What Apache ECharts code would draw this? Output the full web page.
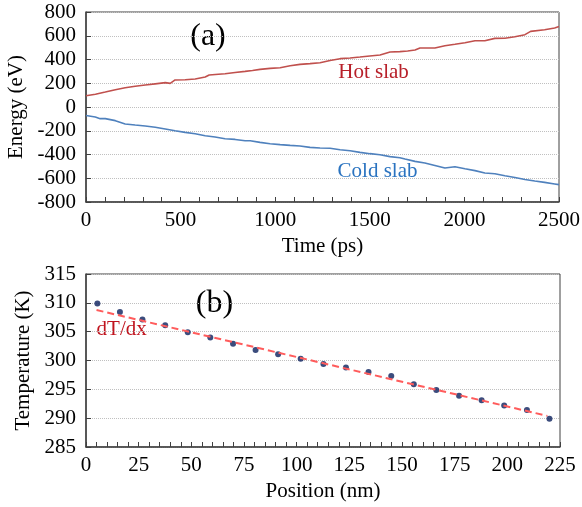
<!DOCTYPE html>
<html>
<head>
<meta charset="utf-8">
<script src="https://cdn.jsdelivr.net/npm/echarts@6/dist/echarts.min.js"></script>
<style>html,body{margin:0;padding:0;background:#fff}#c{width:582px;height:507px}</style>
</head>
<body>
<div id="c"></div>
<script>
// ---- Panel (a): energy vs time ----
var hotTime = [0,50,102,155,207,260,313,366,419,445,471,524,577,630,651,700,735,788,841,880,920,973,1026,1079,1131,1184,1237,1290,1343,1396,1448,1500,1554,1607,1659,1700,1739,1765,1844,1897,1950,2003,2056,2108,2161,2214,2267,2320,2350,2424,2477,2500];
var hotEnergy = [95,108,126,145,162,175,185,195,205,199,228,229,236,253,270,276,280,290,300,308,317,325,331,348,359,365,373,392,407,413,421,430,438,463,466,472,480,497,497,516,528,541,558,558,578,579,592,609,637,651,665,677];
var coldTime = [0,49,75,102,155,207,260,313,366,419,471,524,577,630,682,735,788,841,868,920,973,1026,1079,1131,1184,1237,1290,1343,1396,1448,1501,1554,1607,1659,1686,1739,1791,1844,1897,1950,2003,2056,2108,2161,2214,2267,2320,2372,2424,2477,2500];
var coldEnergy = [-71,-84,-98,-98,-115,-143,-152,-160,-171,-185,-200,-214,-225,-242,-253,-267,-273,-284,-284,-298,-309,-317,-323,-328,-340,-345,-348,-360,-368,-382,-393,-402,-418,-427,-438,-458,-472,-492,-514,-503,-520,-536,-556,-562,-579,-593,-610,-623,-635,-648,-654];

// ---- Panel (b): temperature profile ----
var position = [5.4,16.1,26.8,37.6,48.3,59.0,69.8,80.5,91.2,101.9,112.7,123.4,134.1,144.9,155.6,166.3,177.1,187.8,198.5,209.3,220.0];
var temperature = [309.9,308.4,307.1,306.1,304.9,304.0,302.9,301.8,301.1,300.3,299.4,298.8,298.0,297.3,295.9,294.9,293.9,293.1,292.2,291.4,289.9];
var fitPosition = [5,219];
var fitTemperature = [308.75,290.4];

function zip(a,b){return a.map(function(v,i){return [v,b[i]];});}

var FONT = 'Liberation Serif';
var axisLineStyle = {color:'#404040', width:1.5};
function xAxisCfg(gi, min, max, tickStep, labelStep, name){
  return {
    gridIndex: gi, type:'value', min:min, max:max, interval:tickStep,
    name:name, nameLocation:'middle', nameGap:34,
    nameTextStyle:{fontFamily:FONT, fontSize:21, color:'#000'},
    axisLine:{show:true, onZero:false, lineStyle:axisLineStyle},
    axisTick:{show:true, inside:true, length:5, lineStyle:{color:'#404040', width:1}},
    axisLabel:{fontFamily:FONT, fontSize:21, color:'#000', margin:8, showMinLabel:true, showMaxLabel:true,
      formatter:function(v){ return (Math.abs(v % labelStep) < 1e-6) ? String(v) : ''; }},
    splitLine:{show:false}
  };
}
function yAxisCfg(gi, min, max, interval, name, gap){
  return {
    gridIndex: gi, type:'value', min:min, max:max, interval:interval,
    name:name, nameLocation:'middle', nameGap:gap,
    nameTextStyle:{fontFamily:FONT, fontSize:21, color:'#000'},
    axisLine:{show:true, onZero:false, lineStyle:axisLineStyle},
    axisTick:{show:true, inside:true, length:5, lineStyle:{color:'#404040', width:1}},
    axisLabel:{fontFamily:FONT, fontSize:21, color:'#000', margin:10, formatter:function(v){return String(v);}},
    splitLine:{show:true, lineStyle:{color:'#c0c0c0', type:'dotted', width:1}}
  };
}

var chart = echarts.init(document.getElementById('c'), null, {renderer:'canvas'});
chart.setOption({
  animation:false,
  backgroundColor:'#fff',
  grid:[
    {left:86, right:23, top:12, height:190, show:true, borderColor:'#404040', borderWidth:1, backgroundColor:'transparent', outerBoundsMode:'none', containLabel:false},
    {left:86, right:22, top:274, height:173, show:true, borderColor:'#404040', borderWidth:1, backgroundColor:'transparent', outerBoundsMode:'none', containLabel:false}
  ],
  xAxis:[
    xAxisCfg(0, 0, 2500, 100, 500, 'Time (ps)'),
    xAxisCfg(1, 0, 225, 5, 25, 'Position (nm)')
  ],
  yAxis:[
    yAxisCfg(0, -800, 800, 200, 'Energy (eV)', 57),
    yAxisCfg(1, 285, 315, 5, 'Temperature (K)', 52)
  ],
  series:[
    {type:'line', xAxisIndex:0, yAxisIndex:0, data:zip(hotTime, hotEnergy), showSymbol:false,
     lineStyle:{color:'#c0504d', width:1.6}},
    {type:'line', xAxisIndex:0, yAxisIndex:0, data:zip(coldTime, coldEnergy), showSymbol:false,
     lineStyle:{color:'#4f81bd', width:1.6}},
    {type:'line', xAxisIndex:1, yAxisIndex:1, data:zip(fitPosition, fitTemperature), showSymbol:false,
     lineStyle:{color:'#ff5c5c', width:2, type:[7,4]}},
    {type:'scatter', xAxisIndex:1, yAxisIndex:1, data:zip(position, temperature), symbolSize:6,
     itemStyle:{color:'#0a1f5c'}}
  ],
  graphic:[
    {type:'text', x:208, y:37, style:{text:'(a)', fontFamily:FONT, fontSize:32, fill:'#000', align:'center', verticalAlign:'middle'}},
    {type:'text', x:214.5, y:304, style:{text:'(b)', fontFamily:FONT, fontSize:32, fill:'#000', align:'center', verticalAlign:'middle'}},
    {type:'text', x:373.5, y:72, style:{text:'Hot slab', fontFamily:FONT, fontSize:21, fill:'#b8202a', align:'center', verticalAlign:'middle'}},
    {type:'text', x:377.5, y:171, style:{text:'Cold slab', fontFamily:FONT, fontSize:21, fill:'#2a73c0', align:'center', verticalAlign:'middle'}},
    {type:'text', x:121.7, y:329, style:{text:'dT/dx', fontFamily:FONT, fontSize:21, fill:'#c0141e', align:'center', verticalAlign:'middle'}}
  ]
});
</script>
</body>
</html>
